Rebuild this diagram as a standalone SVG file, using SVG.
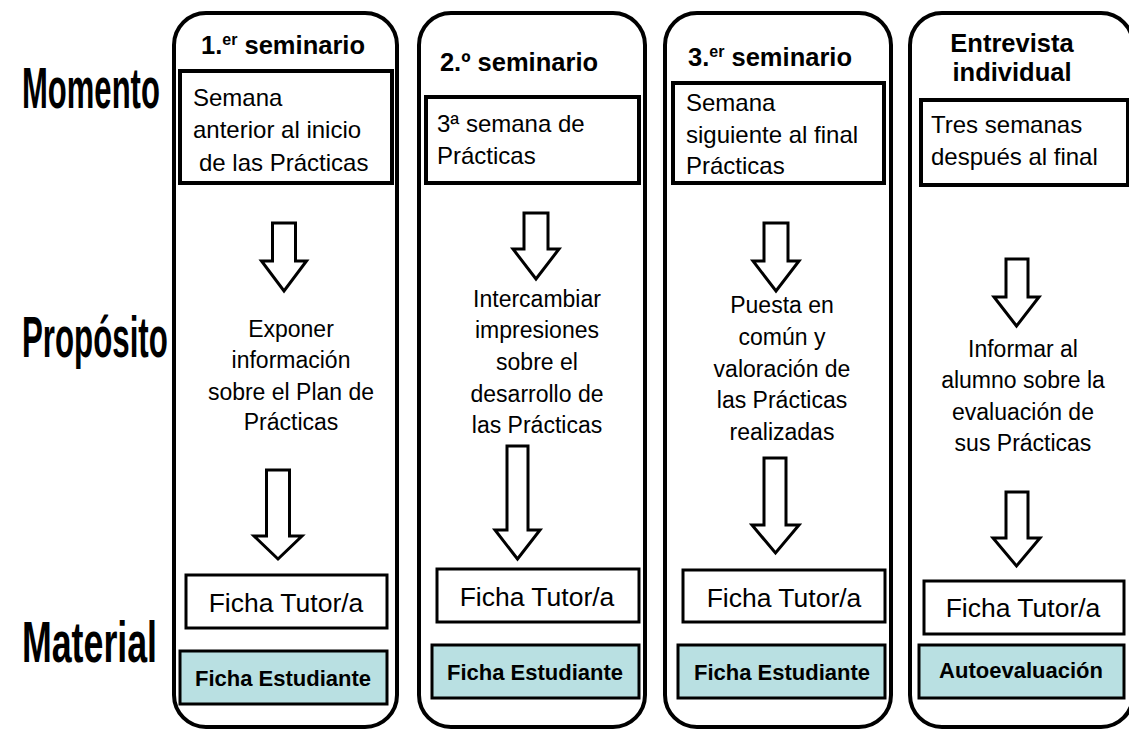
<svg xmlns="http://www.w3.org/2000/svg" width="1129" height="729" viewBox="0 0 1129 729">
<style>
.col{fill:#fff;stroke:#000;stroke-width:4}
.mbox{fill:#fff;stroke:#000;stroke-width:4}
.tbox{fill:#fff;stroke:#000;stroke-width:3}
.sbox{fill:#b9e0e2;stroke:#000;stroke-width:3}
.arr{fill:#fff;stroke:#000;stroke-width:3;stroke-linejoin:miter}
.t{font-family:"Liberation Sans",Arial,sans-serif;fill:#000}
.title{font-size:25.5px;font-weight:bold}
.body{font-size:23px}
.mt{font-size:24px}
.tutor{font-size:26.5px}
.stu{font-size:22px;font-weight:bold}
.lab{font-size:58px;font-weight:bold}
</style>
<rect width="1129" height="729" fill="#fff"/>
<g id="labels">
<text class="t lab" transform="translate(22,108) scale(0.535,1)" x="0" y="0">Momento</text>
<text class="t lab" transform="translate(22,357) scale(0.539,1)" x="0" y="0">Propósito</text>
<text class="t lab" transform="translate(22,662) scale(0.616,1)" x="0" y="0">Material</text>
</g>
<g id="col1">
<rect class="col" x="174" y="13" width="223" height="714" rx="32"/>
<text class="t title" x="283" y="54" text-anchor="middle">1.<tspan font-size="16" dy="-9">er</tspan><tspan dy="9"> seminario</tspan></text>
<rect class="mbox" x="180" y="71" width="212" height="112"/>
<text class="t mt" x="193" y="106">Semana</text>
<text class="t mt" x="193" y="138">anterior al inicio</text>
<text class="t mt" x="199" y="171">de las Prácticas</text>
<text class="t body" text-anchor="middle" x="291" y="337">Exponer</text>
<text class="t body" text-anchor="middle" x="291" y="368">información</text>
<text class="t body" text-anchor="middle" x="291" y="400">sobre el Plan de</text>
<text class="t body" text-anchor="middle" x="291" y="430">Prácticas</text>
<rect class="tbox" x="186" y="575" width="201" height="53"/>
<text class="t tutor" text-anchor="middle" x="286" y="612">Ficha Tutor/a</text>
<rect class="sbox" x="180" y="651" width="207" height="53"/>
<text class="t stu" text-anchor="middle" x="283" y="686">Ficha Estudiante</text>
</g>
<g id="col2">
<rect class="col" x="419" y="13" width="226" height="714" rx="32"/>
<text class="t title" x="519" y="71" text-anchor="middle">2.º seminario</text>
<rect class="mbox" x="426" y="97" width="213" height="86"/>
<text class="t mt" x="437" y="132">3ª semana de</text>
<text class="t mt" x="437" y="164">Prácticas</text>
<text class="t body" text-anchor="middle" x="537" y="307">Intercambiar</text>
<text class="t body" text-anchor="middle" x="537" y="338">impresiones</text>
<text class="t body" text-anchor="middle" x="537" y="370">sobre el</text>
<text class="t body" text-anchor="middle" x="537" y="402">desarrollo de</text>
<text class="t body" text-anchor="middle" x="537" y="433">las Prácticas</text>
<rect class="tbox" x="437" y="569" width="202" height="53"/>
<text class="t tutor" text-anchor="middle" x="537" y="606">Ficha Tutor/a</text>
<rect class="sbox" x="432" y="645" width="207" height="53"/>
<text class="t stu" text-anchor="middle" x="535" y="680">Ficha Estudiante</text>
</g>
<g id="col3">
<rect class="col" x="665" y="13" width="226" height="714" rx="32"/>
<text class="t title" x="770" y="66" text-anchor="middle">3.<tspan font-size="16" dy="-9">er</tspan><tspan dy="9"> seminario</tspan></text>
<rect class="mbox" x="673" y="83" width="211" height="100"/>
<text class="t mt" x="686" y="111">Semana</text>
<text class="t mt" x="686" y="143">siguiente al final</text>
<text class="t mt" x="686" y="174">Prácticas</text>
<text class="t body" text-anchor="middle" x="782" y="313">Puesta en</text>
<text class="t body" text-anchor="middle" x="782" y="345">común y</text>
<text class="t body" text-anchor="middle" x="782" y="377">valoración de</text>
<text class="t body" text-anchor="middle" x="782" y="408">las Prácticas</text>
<text class="t body" text-anchor="middle" x="782" y="440">realizadas</text>
<rect class="tbox" x="683" y="570" width="202" height="52"/>
<text class="t tutor" text-anchor="middle" x="784" y="607">Ficha Tutor/a</text>
<rect class="sbox" x="678" y="645" width="207" height="53"/>
<text class="t stu" text-anchor="middle" x="782" y="680">Ficha Estudiante</text>
</g>
<g id="col4">
<rect class="col" x="910" y="13" width="223" height="714" rx="32"/>
<text class="t title" x="1012" y="52" text-anchor="middle">Entrevista</text>
<text class="t title" x="1012" y="81" text-anchor="middle">individual</text>
<rect class="mbox" x="921" y="100" width="207" height="85"/>
<text class="t mt" x="931" y="133">Tres semanas</text>
<text class="t mt" x="931" y="165">después al final</text>
<text class="t body" text-anchor="middle" x="1023" y="357">Informar al</text>
<text class="t body" text-anchor="middle" x="1023" y="388">alumno sobre la</text>
<text class="t body" text-anchor="middle" x="1023" y="420">evaluación de</text>
<text class="t body" text-anchor="middle" x="1023" y="451">sus Prácticas</text>
<rect class="tbox" x="924" y="581" width="200" height="53"/>
<text class="t tutor" text-anchor="middle" x="1023" y="617">Ficha Tutor/a</text>
<rect class="sbox" x="919" y="645" width="205" height="53"/>
<text class="t stu" text-anchor="middle" x="1021" y="678">Autoevaluación</text>
</g>
<g id="connectors">
<path class="arr" d="M272.5 223 H295.5 V261 H306.5 L284 291 L261.5 261 H272.5 Z"/>
<path class="arr" d="M266.5 470 H289.5 V536 H302 L278 559 L254 536 H266.5 Z"/>
<path class="arr" d="M524 213 H548 V249 H559 L536 279 L513 249 H524 Z"/>
<path class="arr" d="M507 446 H528 V530 H540 L517.5 559 L495 530 H507 Z"/>
<path class="arr" d="M764 223 H788 V261 H799 L776 291 L753 261 H764 Z"/>
<path class="arr" d="M764 458 H786 V525 H799 L775.5 553 L752 525 H764 Z"/>
<path class="arr" d="M1006 259 H1028 V297 H1039 L1016.5 326 L994 297 H1006 Z"/>
<path class="arr" d="M1006 492 H1028 V538 H1040 L1016.5 566 L993 538 H1006 Z"/>
</g>
</svg>
